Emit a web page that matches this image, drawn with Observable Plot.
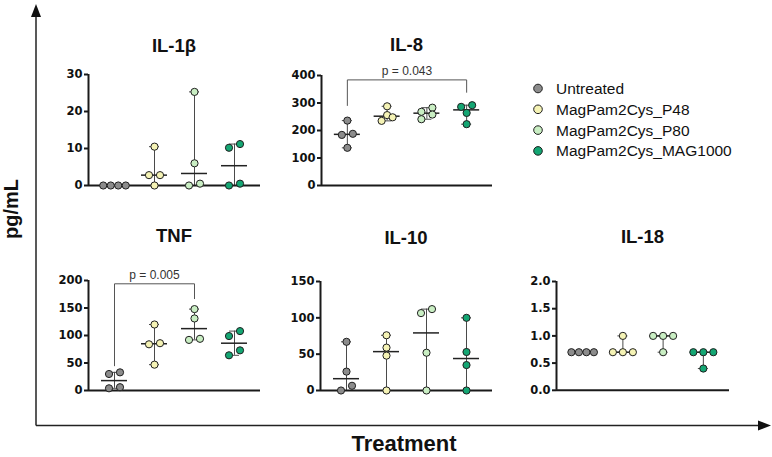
<!DOCTYPE html>
<html><head><meta charset="utf-8">
<script src="https://cdn.jsdelivr.net/npm/d3@7"></script>
<script src="https://cdn.jsdelivr.net/npm/@observablehq/plot@0.6"></script>
<style>
body{margin:0;background:#fff;}
#root{position:relative;width:772px;height:457px;overflow:hidden;background:#fff;}
.panel{position:absolute;}
#overlay{position:absolute;left:0;top:0;pointer-events:none;}
</style></head><body><div id="root"></div>
<script>
// ---- data ----
const groups = ["Untreated", "MagPam2Cys_P48", "MagPam2Cys_P80", "MagPam2Cys_MAG1000"];
const groupColors = ["#8c8c8c", "#f5f3b5", "#c9eec3", "#14a673"];

// pg/mL, four donors per treatment group
const il1b = [[0, 0, 0, 0], [10.5, 2.8, 2.8, 0], [25.3, 6, 0.5, 0], [11.2, 10.2, 0.5, 0]];
const il8  = [[236, 188, 184, 137], [288, 256, 248, 235], [283, 268, 258, 241], [292, 286, 264, 223]];
const tnf  = [[33, 30, 6, 4], [120, 86, 84, 47], [148, 131, 94, 92], [108, 99, 73, 64]];
const il10 = [[67, 26, 6.5, 0], [76, 59, 48, 0], [112, 106.5, 52, 0], [100, 53, 35, 0]];
const il18 = [[0.7, 0.7, 0.7, 0.7], [1.0, 0.7, 0.7, 0.7], [1.0, 1.0, 1.0, 0.7], [0.7, 0.7, 0.7, 0.4]];

const il1bTicks = [0, 10, 20, 30];
const il8Ticks  = [0, 100, 200, 300, 400];
const tnfTicks  = [0, 50, 100, 150, 200];
const il10Ticks = [0, 50, 100, 150];
const il18Ticks = [0, 0.5, 1, 1.5, 2];

const panelTitles = ["IL-1β", "IL-8", "TNF", "IL-10", "IL-18"];
const il8Test = {from: 0, to: 3, top: 384, leftEnd: 291, rightEnd: 339, label: "p = 0.043"};
const tnfTest = {from: 0, to: 2, top: 194, leftEnd: 45, rightEnd: 167, label: "p = 0.005"};

const yAxisTitle = "pg/mL";
const xAxisTitle = "Treatment";

// ---- layout ----
const layout = [
  {axisX: 88,  top: 74,    bottom: 185,   right: 260, titleY: 52},
  {axisX: 321, top: 75,    bottom: 185,   right: 492, titleY: 51},
  {axisX: 88,  top: 280,   bottom: 390,   right: 260, titleY: 242},
  {axisX: 320, top: 280.5, bottom: 389.5, right: 492, titleY: 244},
  {axisX: 556, top: 280.7, bottom: 389.5, right: 729, titleY: 243}
];

const root = document.getElementById("root");

// symmetric dodge of overlapping points (computed from values)
function dodge(vals, pxPerY) {
  const idx = vals.map((v, i) => i).sort((a, b) => vals[a] - vals[b]);
  const offs = new Array(vals.length).fill(0);
  let cluster = [];
  const flush = () => {
    const n = cluster.length;
    const s = Math.min(11, 30 / n);
    cluster.forEach((j, k) => offs[j] = (k - (n - 1) / 2) * s);
    cluster = [];
  };
  for (const j of idx) {
    if (cluster.length && (vals[j] - vals[cluster[0]]) * pxPerY > 5.5) flush();
    cluster.push(j);
  }
  flush();
  return offs;
}

function panel(vals, ticks, fmt, L, test) {
  const mL = 48, mR = 8, mT = 20, mB = 10;
  const innerW = L.right - L.axisX, innerH = L.bottom - L.top;
  const yMax = ticks[ticks.length - 1];
  const pxY = innerH / yMax;
  const pxX = innerW / 4.3;
  const points = [], stats = [];
  vals.forEach((arr, gi) => {
    const offs = dodge(arr, pxY);
    arr.forEach((v, k) => points.push({group: groups[gi], x: gi + offs[k] / pxX, v}));
    stats.push({gi, min: d3.min(arr), max: d3.max(arr), med: d3.median(arr)});
  });
  const capH = 5 / pxX, medH = 13 / pxX;
  const marks = [
    Plot.ruleX(stats, {x: "gi", y1: "min", y2: "max", stroke: "#4a4a4a", strokeWidth: 1}),
    Plot.ruleY(stats, {y: "max", x1: d => d.gi - capH, x2: d => d.gi + capH, stroke: "#4a4a4a", strokeWidth: 1}),
    Plot.ruleY(stats, {y: "min", x1: d => d.gi - capH, x2: d => d.gi + capH, stroke: "#4a4a4a", strokeWidth: 1}),
    Plot.ruleY(stats, {y: "med", x1: d => d.gi - medH, x2: d => d.gi + medH, stroke: "#222", strokeWidth: 1.5}),
    Plot.ruleY([0], {stroke: "#1a1a1a", strokeWidth: 2}),
    Plot.ruleX([-0.65], {y1: 0, y2: yMax, stroke: "#1a1a1a", strokeWidth: 2}),
    Plot.axisY({ticks, tickFormat: fmt, tickSize: 4, tickPadding: 2, label: null,
      stroke: "#1a1a1a", strokeWidth: 2, fill: "#111"}),
    Plot.dot(points, {x: "x", y: "v", fill: "group", stroke: "#1f1f1f", strokeWidth: 1, r: 3.6})
  ];
  if (test) {
    const br = [
      {x: test.from, y: test.leftEnd}, {x: test.from, y: test.top},
      {x: test.to, y: test.top}, {x: test.to, y: test.rightEnd}
    ];
    marks.push(Plot.line(br, {x: "x", y: "y", stroke: "#555", strokeWidth: 1}));
    marks.push(Plot.text([test], {x: d => (d.from + d.to) / 2, y: "top", text: "label", dy: -9,
      fontFamily: "Liberation Sans, Arial, sans-serif", fontSize: 12, fontWeight: "normal", fill: "#333"}));
  }
  const svg = Plot.plot({
    width: innerW + mL + mR, height: innerH + mT + mB,
    marginLeft: mL, marginRight: mR, marginTop: mT, marginBottom: mB,
    x: {domain: [-0.65, 3.65], axis: null},
    y: {domain: [0, yMax], axis: null},
    color: {domain: groups, range: groupColors},
    style: {fontFamily: "DejaVu Sans, sans-serif", fontSize: "11.5px", fontWeight: "bold", background: "transparent", overflow: "visible"},
    marks
  });
  const div = document.createElement("div");
  div.className = "panel";
  div.style.left = (L.axisX - mL) + "px";
  div.style.top = (L.top - mT) + "px";
  div.appendChild(svg);
  root.appendChild(div);
}

panel(il1b, il1bTicks, d3.format("d"), layout[0], null);
panel(il8, il8Ticks, d3.format("d"), layout[1], il8Test);
panel(tnf, tnfTicks, d3.format("d"), layout[2], tnfTest);
panel(il10, il10Ticks, d3.format("d"), layout[3], null);
panel(il18, il18Ticks, d3.format(".1f"), layout[4], null);

// ---- overlay: frame arrows, titles, legend ----
const NS = "http://www.w3.org/2000/svg";
const ov = document.createElementNS(NS, "svg");
ov.setAttribute("id", "overlay");
ov.setAttribute("width", 772); ov.setAttribute("height", 457);
function el(tag, attrs, text) {
  const e = document.createElementNS(NS, tag);
  for (const k in attrs) e.setAttribute(k, attrs[k]);
  if (text != null) e.textContent = text;
  ov.appendChild(e);
  return e;
}
el("line", {x1: 36, y1: 425.5, x2: 36, y2: 14, stroke: "#222", "stroke-width": 1.5});
el("polygon", {points: "31,17 41,17 36,4", fill: "#111"});
el("line", {x1: 36, y1: 425.5, x2: 760, y2: 425.5, stroke: "#222", "stroke-width": 1.5});
el("polygon", {points: "758,420.5 758,430.5 771,425.5", fill: "#111"});

panelTitles.forEach((t, i) => {
  const L = layout[i];
  el("text", {x: (L.axisX + L.right) / 2, y: L.titleY, "text-anchor": "middle",
    "font-family": "Liberation Sans, Arial, sans-serif", "font-weight": "bold", "font-size": 18.5, fill: "#111"}, t);
});

el("text", {x: 404, y: 451, "text-anchor": "middle", "font-family": "Liberation Sans, Arial, sans-serif",
  "font-weight": "bold", "font-size": 22, fill: "#111"}, xAxisTitle);
el("text", {transform: "translate(18,209) rotate(-90)", "text-anchor": "middle", "font-family": "Liberation Sans, Arial, sans-serif",
  "font-weight": "bold", "font-size": 20, fill: "#111"}, yAxisTitle);

groups.forEach((g, i) => {
  const y = 88.5 + i * 20.8;
  el("circle", {cx: 538, cy: y, r: 4.3, fill: groupColors[i], stroke: "#1f1f1f", "stroke-width": 1});
  el("text", {x: 556, y: y + 5.5, "font-family": "Liberation Sans, Arial, sans-serif", "font-size": 15.5, fill: "#111"}, g);
});
root.appendChild(ov);
</script></body></html>
